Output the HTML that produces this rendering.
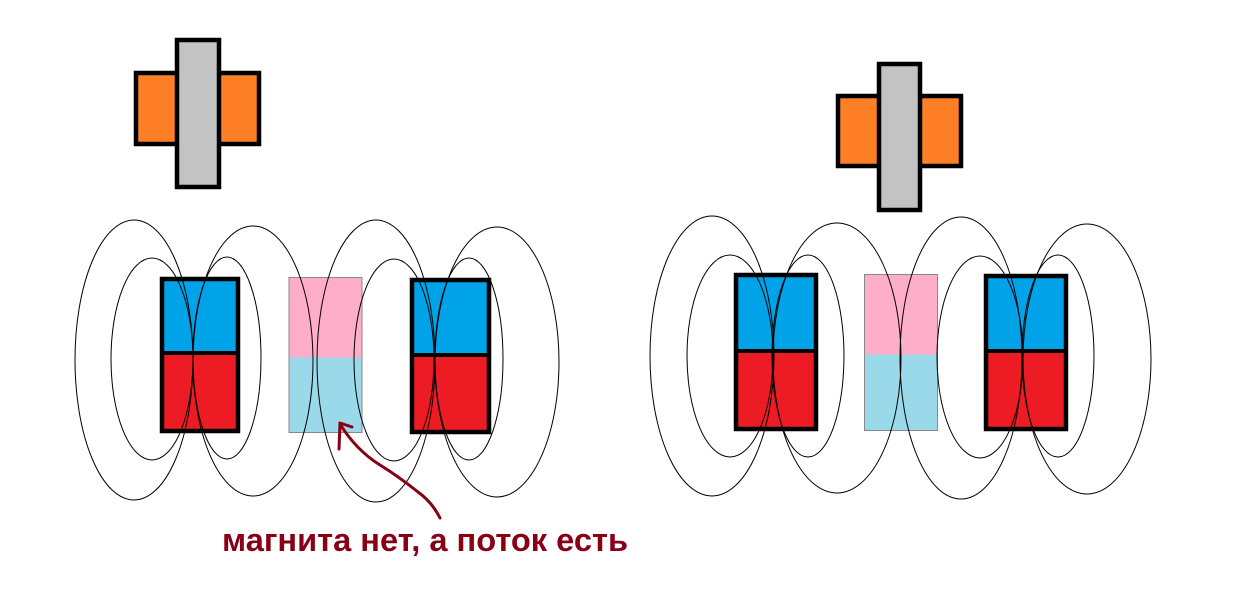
<!DOCTYPE html>
<html><head><meta charset="utf-8"><style>html,body{margin:0;padding:0;background:#fff;width:1256px;height:602px;overflow:hidden}</style></head><body>
<svg width="1256" height="602" viewBox="0 0 1256 602" xmlns="http://www.w3.org/2000/svg">
<rect x="136" y="73" width="123" height="71" fill="#ff7f27" stroke="#000" stroke-width="4.5"/>
<rect x="177" y="40" width="42" height="147" fill="#c3c3c3" stroke="#000" stroke-width="4.5"/>
<rect x="838" y="96" width="123" height="70" fill="#ff7f27" stroke="#000" stroke-width="4.5"/>
<rect x="879" y="64" width="41" height="146" fill="#c3c3c3" stroke="#000" stroke-width="4.5"/>

<rect x="162" y="279" width="76" height="74" fill="#00a2e8"/>
<rect x="162" y="353" width="76" height="78" fill="#ed1c24"/>
<rect x="162" y="279" width="76" height="152" fill="none" stroke="#000" stroke-width="4.5"/>
<line x1="162" y1="353" x2="238" y2="353" stroke="#000" stroke-width="4"/>
<rect x="289" y="277.5" width="73" height="80" fill="#ffaec9"/>
<rect x="289" y="357.5" width="73" height="75" fill="#99d9ea"/>
<rect x="289" y="277.5" width="73" height="155" fill="none" stroke="#888" stroke-width="1"/>
<rect x="412" y="280" width="77" height="152" fill="#00a2e8"/>
<rect x="412" y="355" width="77" height="77" fill="#ed1c24"/>
<rect x="412" y="280" width="77" height="152" fill="none" stroke="#000" stroke-width="4.5"/>
<line x1="412" y1="355" x2="489" y2="355" stroke="#000" stroke-width="4"/>

<rect x="736" y="275" width="80" height="76" fill="#00a2e8"/>
<rect x="736" y="351" width="80" height="78" fill="#ed1c24"/>
<rect x="736" y="275" width="80" height="154" fill="none" stroke="#000" stroke-width="4.5"/>
<line x1="736" y1="351" x2="816" y2="351" stroke="#000" stroke-width="4"/>
<rect x="864.5" y="274.5" width="73" height="80" fill="#ffaec9"/>
<rect x="864.5" y="354.5" width="73" height="76" fill="#99d9ea"/>
<rect x="864.5" y="274.5" width="73" height="156" fill="none" stroke="#888" stroke-width="1"/>
<rect x="986" y="276" width="80" height="153" fill="#00a2e8"/>
<rect x="986" y="351" width="80" height="78" fill="#ed1c24"/>
<rect x="986" y="276" width="80" height="153" fill="none" stroke="#000" stroke-width="4.5"/>
<line x1="986" y1="351" x2="1066" y2="351" stroke="#000" stroke-width="4"/>

<g fill="none" stroke="#000" stroke-width="1">
<ellipse cx="134" cy="360" rx="59" ry="140"/>
<ellipse cx="152" cy="359" rx="41" ry="101"/>
<ellipse cx="253" cy="361" rx="60" ry="135"/>
<ellipse cx="227" cy="358" rx="34" ry="101"/>
<ellipse cx="376" cy="361" rx="59" ry="141"/>
<ellipse cx="394" cy="360" rx="40" ry="101"/>
<ellipse cx="497" cy="362" rx="62" ry="135"/>
<ellipse cx="469" cy="359" rx="34" ry="101"/>

<ellipse cx="712" cy="356" rx="62" ry="140"/>
<ellipse cx="730" cy="356" rx="43" ry="101"/>
<ellipse cx="837" cy="358" rx="64" ry="135"/>
<ellipse cx="808" cy="356" rx="36" ry="101"/>
<ellipse cx="961" cy="358" rx="61" ry="141"/>
<ellipse cx="980" cy="357" rx="43" ry="101"/>
<ellipse cx="1087" cy="359" rx="64" ry="135"/>
<ellipse cx="1058" cy="356" rx="36" ry="101"/>
</g>

<g fill="none" stroke="#880015" stroke-width="3" stroke-linecap="round" stroke-linejoin="round">
<path d="M440 518 Q432 502 418 492 Q398 476 380 465 Q356 450 340 424"/>
<path d="M339 449 L340 423 L352 427"/>
</g>
<text x="222" y="551" textLength="406" lengthAdjust="spacingAndGlyphs" font-family="'Liberation Sans', sans-serif" font-weight="bold" font-size="32" fill="#880015">магнита нет, а поток есть</text>
</svg>
</body></html>
